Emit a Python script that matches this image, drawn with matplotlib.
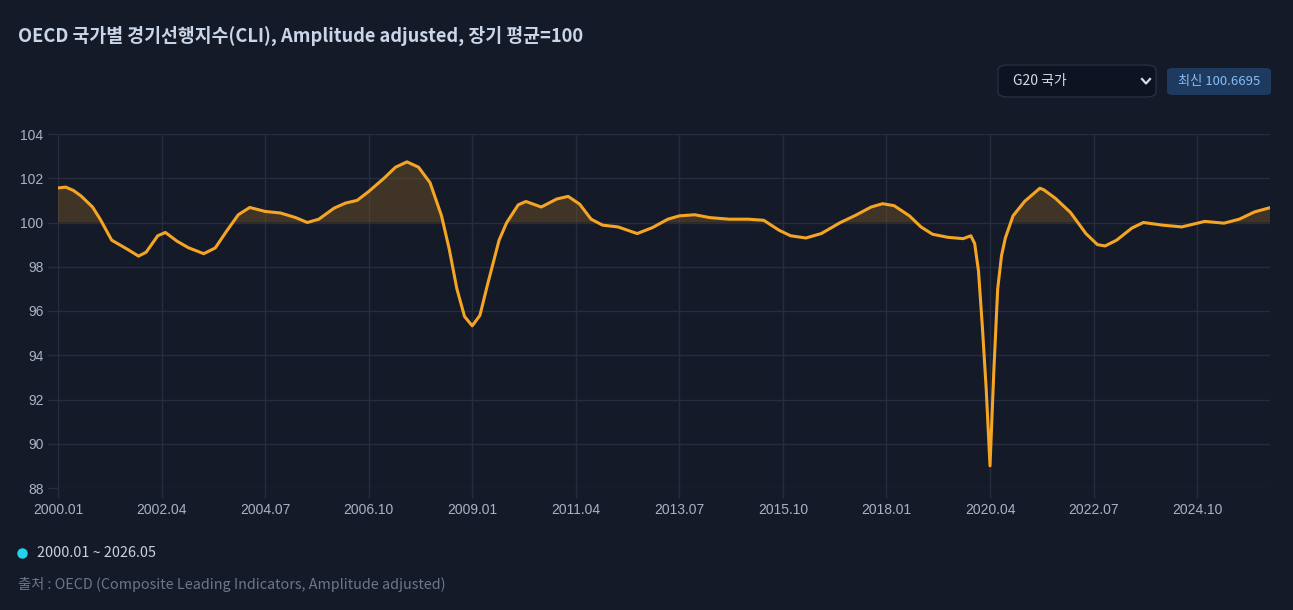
import numpy as np
import matplotlib.pyplot as plt
from matplotlib.patches import FancyBboxPatch
from matplotlib.lines import Line2D

# ===============================
# DATA
# ===============================
dates = [
    "2000.01", "2000.03", "2000.05", "2000.07", "2000.10", "2000.12",
    "2001.03", "2001.07", "2001.10", "2001.12", "2002.03", "2002.05",
    "2002.08", "2002.11", "2003.03", "2003.06", "2003.09", "2003.12",
    "2004.03", "2004.07", "2004.11", "2005.03", "2005.06", "2005.09",
    "2006.01", "2006.04", "2006.07", "2006.10", "2007.02", "2007.05",
    "2007.08", "2007.11", "2008.02", "2008.05", "2008.07", "2008.09",
    "2008.11", "2009.01", "2009.03", "2009.05", "2009.08", "2009.10",
    "2010.01", "2010.03", "2010.07", "2010.11", "2011.02", "2011.05",
    "2011.08", "2011.11", "2012.03", "2012.08", "2012.12", "2013.04",
    "2013.07", "2013.11", "2014.03", "2014.08", "2015.01", "2015.05",
    "2015.09", "2015.12", "2016.04", "2016.08", "2017.01", "2017.05",
    "2017.09", "2017.12", "2018.03", "2018.07", "2018.10", "2019.01",
    "2019.05", "2019.09", "2019.11", "2019.12", "2020.01", "2020.02",
    "2020.03", "2020.04", "2020.05", "2020.06", "2020.07", "2020.08",
    "2020.10", "2021.01", "2021.05", "2021.06", "2021.09", "2022.01",
    "2022.05", "2022.08", "2022.10", "2023.01", "2023.05", "2023.08",
    "2024.01", "2024.06", "2024.12", "2025.05", "2025.09", "2026.01",
    "2026.05",
]
cli = [
    101.56, 101.60, 101.45, 101.20, 100.70, 100.15,
    99.20, 98.80, 98.48, 98.66, 99.40, 99.55,
    99.16, 98.86, 98.59, 98.85, 99.62, 100.35,
    100.68, 100.50, 100.43, 100.22, 100.00, 100.15,
    100.65, 100.88, 101.00, 101.40, 102.00, 102.50,
    102.74, 102.50, 101.80, 100.30, 98.80, 97.00,
    95.75, 95.33, 95.80, 97.20, 99.20, 100.00,
    100.80, 100.95, 100.70, 101.06, 101.18, 100.83,
    100.15, 99.88, 99.80, 99.50, 99.77, 100.15,
    100.30, 100.35, 100.22, 100.15, 100.15, 100.10,
    99.65, 99.40, 99.30, 99.50, 100.00, 100.33,
    100.70, 100.85, 100.76, 100.30, 99.80, 99.47,
    99.33, 99.27, 99.40, 99.05, 97.80, 95.30,
    92.50, 89.00, 93.30, 97.00, 98.50, 99.30,
    100.30, 100.95, 101.55, 101.48, 101.10, 100.45,
    99.50, 99.00, 98.94, 99.20, 99.75, 100.00,
    99.88, 99.80, 100.05, 99.97, 100.15, 100.48,
    100.6695,
]
x_tick_labels = ["2000.01", "2002.04", "2004.07", "2006.10", "2009.01", "2011.04",
                 "2013.07", "2015.10", "2018.01", "2020.04", "2022.07", "2024.10"]
y_ticks = [88, 90, 92, 94, 96, 98, 100, 102, 104]


def month_index(s):
    y, m = s.split(".")
    return (int(y) - 2000) * 12 + int(m) - 1


x = np.array([month_index(d) for d in dates])
y = np.array(cli)

# ===============================
# STYLE
# ===============================
BG = "#151a29"
GRID = "#262d3e"
LINE = "#f5a524"
TICK_TXT = "#a9b3c3"
KR = ["Noto Sans CJK KR", "DejaVu Sans"]

fig = plt.figure(figsize=(12.93, 6.10), dpi=100, facecolor=BG)
ax = fig.add_axes([58 / 1293, 1 - 488 / 610, (1270 - 58) / 1293, (488 - 134) / 610])
ax.set_facecolor(BG)

ax.fill_between(x, y, 100, where=y >= 100, interpolate=True,
                color="#7a5a24", alpha=0.42, linewidth=0)
ax.plot(x, y, color=LINE, linewidth=2.2, solid_joinstyle="round", zorder=3)

ax.set_xlim(0, month_index("2026.05"))
ax.set_ylim(88, 104)
ax.set_yticks(y_ticks)
ax.set_xticks([month_index(t) for t in x_tick_labels])
ax.set_xticklabels(x_tick_labels)
ax.grid(True, color=GRID, linewidth=1)
ax.set_axisbelow(True)
for s in ax.spines.values():
    s.set_visible(False)
ax.tick_params(colors=GRID, length=7, width=1, labelcolor=TICK_TXT, labelsize=10)
for lbl in ax.get_xticklabels() + ax.get_yticklabels():
    lbl.set_family("Liberation Sans")

# ===============================
# TITLE, CONTROLS, FOOTER
# ===============================
fig.text(18 / 1293, 1 - 36 / 610, "OECD 국가별 경기선행지수(CLI), Amplitude adjusted, 장기 평균=100",
         family=KR, fontsize=13.2, fontweight="bold", color="#c9d5e8", va="center")

# dropdown
fig.patches.append(FancyBboxPatch((998 / 1293, 1 - 97 / 610), 158 / 1293, 32 / 610,
                                  boxstyle="round,pad=0,rounding_size=0.008",
                                  transform=fig.transFigure, facecolor="#0e1322",
                                  edgecolor="#272e40", linewidth=1))
fig.text(1013 / 1293, 1 - 81 / 610, "G20 국가", family=KR, fontsize=10,
         color="#d6dce6", va="center")
fig.add_artist(Line2D([1142 / 1293, 1146 / 1293, 1150 / 1293],
                      [1 - 79 / 610, 1 - 83.5 / 610, 1 - 79 / 610],
                      transform=fig.transFigure, color="#d6dce6", linewidth=1.6))

# latest badge
fig.patches.append(FancyBboxPatch((1167 / 1293, 1 - 95 / 610), 104 / 1293, 27 / 610,
                                  boxstyle="round,pad=0,rounding_size=0.005",
                                  transform=fig.transFigure, facecolor="#1f3a5f",
                                  edgecolor="none"))
fig.text(1219 / 1293, 1 - 81.5 / 610, "최신 100.6695", family=KR, fontsize=9.5,
         color="#86bdf7", va="center", ha="center")

# legend + source
fig.add_artist(Line2D([22 / 1293], [1 - 553 / 610], marker="o", markersize=6.5,
                      color="#22d3ee", transform=fig.transFigure, linestyle="none"))
fig.text(37 / 1293, 1 - 553 / 610, "2000.01 ~ 2026.05", family=KR, fontsize=10.4,
         color="#c9d1dd", va="center")
fig.text(18 / 1293, 1 - 584 / 610,
         "출처 : OECD (Composite Leading Indicators, Amplitude adjusted)",
         family=KR, fontsize=10.3, color="#6c778a", va="center")

fig.savefig("out.png", dpi=100, facecolor=BG)
